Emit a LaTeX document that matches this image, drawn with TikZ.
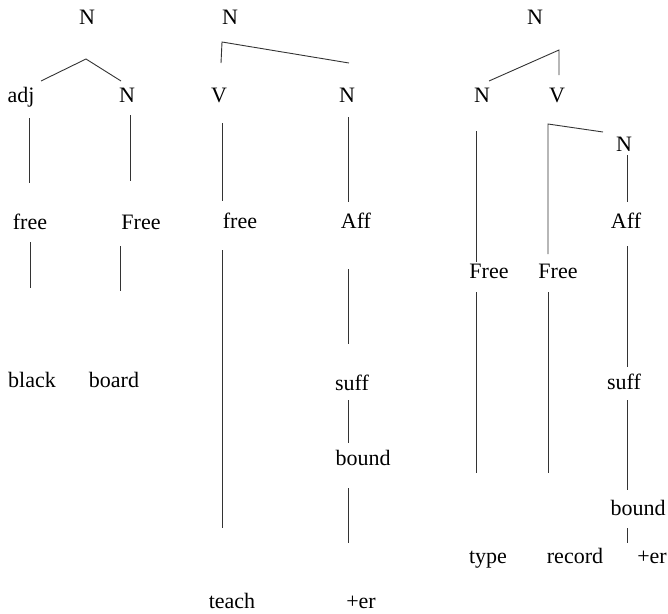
\documentclass[tikz,border=0pt]{standalone}
\usepackage{fontspec}
\setmainfont{Liberation Serif}
\begin{document}
\begin{tikzpicture}[x=1pt,y=-1pt,
  lbl/.style={anchor=base,inner sep=0pt,font=\fontsize{22}{26}\selectfont},
  br/.style={draw=black!80,line width=0.9pt}]
\useasboundingbox (0,0) rectangle (668,613);
% ---------- tree 1 ----------
\node[lbl] (a0) at (87,24) {N};
\node[lbl] (a1) at (21,102) {adj};
\node[lbl] (a2) at (127,102) {N};
\node[lbl] (a3) at (30,229) {free};
\node[lbl] (a4) at (141,229) {Free};
\node[lbl] (a5) at (32,387) {black};
\node[lbl] (a6) at (114,387) {board};
\coordinate (a1t) at (41,81); \coordinate (a0b) at (86,59); \coordinate (a2t) at (121,81);
\draw[br] (a1t) -- (a0b) -- (a2t);
\coordinate (a1b) at (29,118); \coordinate (a3t) at (29,183);
\draw[br] (a1b) -- (a3t);
\coordinate (a2b) at (130,115); \coordinate (a4t) at (130,181);
\draw[br] (a2b) -- (a4t);
\coordinate (a3b) at (30,242); \coordinate (a5t) at (30,288);
\draw[br] (a3b) -- (a5t);
\coordinate (a4b) at (120,246); \coordinate (a6t) at (120,291);
\draw[br] (a4b) -- (a6t);
% ---------- tree 2 ----------
\node[lbl] (b0) at (230,24) {N};
\node[lbl] (b1) at (219,102) {V};
\node[lbl] (b2) at (347,102) {N};
\node[lbl] (b3) at (240,228) {free};
\node[lbl] (b4) at (356,228) {Aff};
\node[lbl] (b5) at (352,390) {suff};
\node[lbl] (b6) at (363,465) {bound};
\node[lbl] (b7) at (232,608) {teach};
\node[lbl] (b8) at (361,608) {+er};
\coordinate (b1t) at (221,63); \coordinate (b0b) at (222,42); \coordinate (b2t) at (349,63);
\draw[br] (b1t) -- (b0b) -- (b2t);
\coordinate (b1b) at (222,123); \coordinate (b3t) at (222,201);
\draw[br] (b1b) -- (b3t);
\coordinate (b3b) at (222,250); \coordinate (b7t) at (222,528);
\draw[br] (b3b) -- (b7t);
\coordinate (b2b) at (348,117); \coordinate (b4t) at (348,202);
\draw[br] (b2b) -- (b4t);
\coordinate (b4b) at (348,269); \coordinate (b5t) at (348,344);
\draw[br] (b4b) -- (b5t);
\coordinate (b5b) at (348,400); \coordinate (b6t) at (348,443);
\draw[br] (b5b) -- (b6t);
\coordinate (b6b) at (348,488); \coordinate (b8t) at (348,543);
\draw[br] (b6b) -- (b8t);
% ---------- tree 3 ----------
\node[lbl] (c0) at (535,24) {N};
\node[lbl] (c1) at (482,102) {N};
\node[lbl] (c2) at (557,102) {V};
\node[lbl] (c3) at (624,151) {N};
\node[lbl] (c4) at (489,278) {Free};
\node[lbl] (c5) at (558,278) {Free};
\node[lbl] (c6) at (626,228) {Aff};
\node[lbl] (c7) at (624,389) {suff};
\node[lbl] (c8) at (638,515) {bound};
\node[lbl] (c9) at (488,563) {type};
\node[lbl] (c10) at (575,563) {record};
\node[lbl] (c11) at (652,563) {+er};
\coordinate (c1t) at (489,81); \coordinate (c0b) at (559,50); \coordinate (c2t) at (559,75);
\draw[br] (c1t) -- (c0b) -- (c2t);
\coordinate (c1b) at (476,131); \coordinate (c4t) at (476,262);
\draw[br] (c1b) -- (c4t);
\coordinate (c4b) at (476,292); \coordinate (c9t) at (476,473);
\draw[br] (c4b) -- (c9t);
\coordinate (c5t) at (548,254); \coordinate (c2b) at (548,124); \coordinate (c3t) at (603,132);
\draw[br] (c5t) -- (c2b) -- (c3t);
\coordinate (c5b) at (548,292); \coordinate (c10t) at (548,473);
\draw[br] (c5b) -- (c10t);
\coordinate (c3b) at (627,155); \coordinate (c6t) at (627,202);
\draw[br] (c3b) -- (c6t);
\coordinate (c6b) at (627,246); \coordinate (c7t) at (627,367);
\draw[br] (c6b) -- (c7t);
\coordinate (c7b) at (627,400); \coordinate (c8t) at (627,490);
\draw[br] (c7b) -- (c8t);
\coordinate (c8b) at (627,528); \coordinate (c11t) at (627,543);
\draw[br] (c8b) -- (c11t);
\end{tikzpicture}
\end{document}
